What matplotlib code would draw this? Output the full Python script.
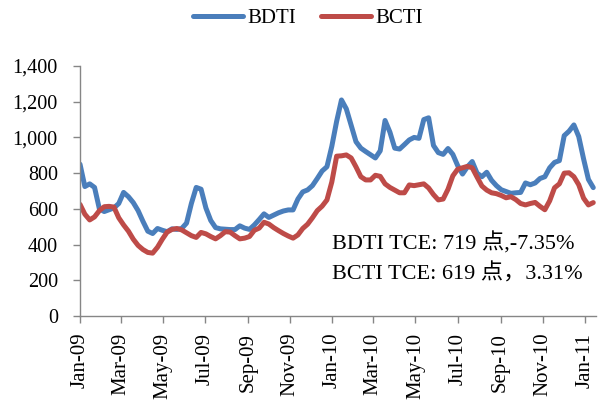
import matplotlib
matplotlib.use("Agg")
import matplotlib.pyplot as plt
import matplotlib.dates as mdates
import numpy as np
import datetime as dt

start_date = dt.date(2009, 1, 1)
n_weeks = 107
dates = [start_date + dt.timedelta(days=7 * i) for i in range(n_weeks)]

bdti = [850, 725, 740, 720, 600, 585, 595, 605, 630, 692,
        668, 635, 590, 530, 475, 462, 490, 480, 472, 488,
        485, 490, 520, 630, 720, 710, 605, 535, 495, 488,
        486, 484, 484, 505, 492, 485, 510, 540, 572, 552,
        565, 578, 588, 594, 594, 655, 695, 706, 730, 770,
        812, 836, 950, 1090, 1210, 1160, 1068, 976, 940, 921,
        903, 885, 925, 1095, 1030, 940, 935, 960, 986, 1000,
        995, 1100, 1110, 955, 915, 905, 938, 905, 842, 795,
        835, 865, 800, 780, 805, 760, 730, 707, 697, 687,
        690, 692, 745, 735, 745, 770, 780, 830, 860, 870,
        1010, 1035, 1070, 1005, 880, 765, 719]

bcti = [625, 570, 538, 555, 590, 612, 614, 610, 550, 510,
        475, 430, 395, 372, 356, 352, 385, 430, 470, 485,
        490, 482, 466, 450, 440, 468, 460, 445, 432, 450,
        472, 470, 450, 432, 436, 445, 480, 492, 525, 515,
        495, 478, 462, 448, 436, 454, 490, 514, 550, 590,
        615, 650, 750, 895, 897, 902, 885, 835, 780, 762,
        762, 788, 782, 740, 720, 705, 690, 690, 734, 730,
        735, 740, 717, 680, 650, 655, 710, 785, 822, 830,
        838, 830, 778, 728, 705, 690, 685, 675, 662, 668,
        652, 630, 622, 630, 636, 614, 595, 645, 718, 740,
        800, 802, 780, 735, 660, 622, 635]

series_names = ["BDTI", "BCTI"]
annotation_lines = ["BDTI TCE: 719 点,-7.35%", "BCTI TCE: 619 点，3.31%"]

serif = ["Liberation Serif", "Noto Sans CJK SC", "DejaVu Sans"]
plt.rcParams["font.family"] = serif

fig = plt.figure(figsize=(5.98, 4.03), dpi=100)
ax = fig.add_axes([0.1338, 0.2159, 0.8629, 0.6203])

blue = "#4A7EBB"
red = "#BE4B48"
ax.plot(dates, bdti, color=blue, lw=3.6, label=series_names[0], solid_capstyle="round", solid_joinstyle="round")
ax.plot(dates, bcti, color=red, lw=3.6, label=series_names[1], solid_capstyle="round", solid_joinstyle="round")

ax.set_ylim(0, 1400)
ax.set_yticks(np.arange(0, 1401, 200))
ax.yaxis.set_major_formatter(matplotlib.ticker.FuncFormatter(lambda v, p: f"{int(v):,}"))
ax.set_xlim(dt.date(2009, 1, 1), dt.date(2011, 1, 17))
ax.xaxis.set_major_locator(mdates.MonthLocator(bymonth=[1, 3, 5, 7, 9, 11]))
ax.xaxis.set_major_formatter(mdates.DateFormatter("%b-%y"))

for s in ["top", "right"]:
    ax.spines[s].set_visible(False)
for s in ["left", "bottom"]:
    ax.spines[s].set_color("#868686")
    ax.spines[s].set_linewidth(1.0)

ax.tick_params(axis="y", direction="out", length=5, width=1, color="#868686", labelsize=14.5, pad=11)
ax.tick_params(axis="x", direction="out", length=5, width=1, color="#868686", labelsize=15, pad=7)
for lab in ax.get_xticklabels():
    lab.set_rotation(90)
    lab.set_va("top")
    lab.set_ha("center")

leg = fig.legend(loc="upper center", bbox_to_anchor=(0.515, 1.025), ncol=2, frameon=False,
                 fontsize=15, handlelength=2.4, columnspacing=1.2, handletextpad=0.2)

ax.text(0.488, 0.292, annotation_lines[0], transform=ax.transAxes, fontsize=16,
        ha="left", va="center", family=serif)
ax.text(0.488, 0.168, annotation_lines[1], transform=ax.transAxes, fontsize=16,
        ha="left", va="center", family=serif)

fig.savefig("out.png", dpi=100)
